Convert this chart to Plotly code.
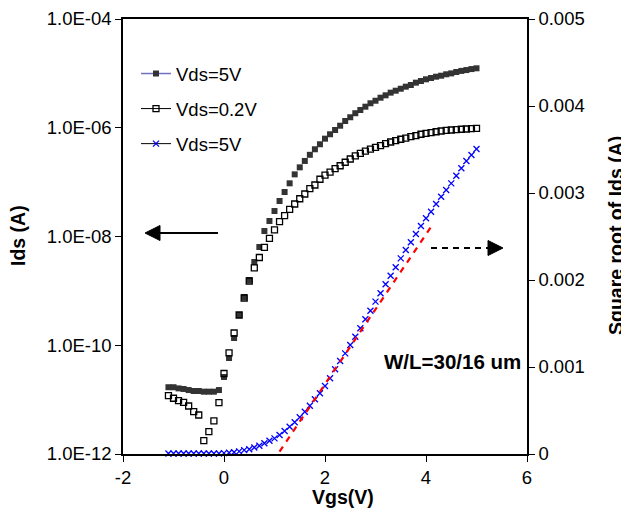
import plotly.graph_objects as go

# ---- data ----
vgs = [-1.1, -1.0, -0.9, -0.8, -0.7, -0.6, -0.5, -0.4, -0.3, -0.2, -0.1,
       0.0, 0.1, 0.2, 0.3, 0.4, 0.5, 0.6, 0.7, 0.8, 0.9,
       1.0, 1.1, 1.2, 1.3, 1.4, 1.5, 1.6, 1.7, 1.8, 1.9,
       2.0, 2.1, 2.2, 2.3, 2.4, 2.5, 2.6, 2.7, 2.8, 2.9,
       3.0, 3.1, 3.2, 3.3, 3.4, 3.5, 3.6, 3.7, 3.8, 3.9,
       4.0, 4.1, 4.2, 4.3, 4.4, 4.5, 4.6, 4.7, 4.8, 4.9, 5.0]

ids_vds5 = [1.69e-11, 1.69e-11, 1.61e-11, 1.57e-11, 1.50e-11, 1.44e-11, 1.44e-11, 1.40e-11, 1.40e-11, 1.40e-11, 1.50e-11,
            2.61e-11, 5.83e-11, 1.36e-10, 3.60e-10, 7.71e-10, 1.585e-9, 3.40e-9, 6.41e-9, 1.26e-8, 1.93e-8,
            2.94e-8, 4.50e-8, 6.58e-8, 9.51e-8, 1.39e-7, 1.87e-7, 2.45e-7, 3.18e-7, 4.02e-7, 4.97e-7,
            6.30e-7, 7.59e-7, 9.10e-7, 1.09e-6, 1.33e-6, 1.56e-6, 1.85e-6, 2.12e-6, 2.44e-6, 2.82e-6,
            3.14e-6, 3.57e-6, 3.95e-6, 4.42e-6, 4.80e-6, 5.22e-6, 5.69e-6, 6.11e-6, 6.75e-6, 7.24e-6,
            7.78e-6, 8.22e-6, 8.69e-6, 9.06e-6, 9.62e-6, 1.00e-5, 1.06e-5, 1.11e-5, 1.15e-5, 1.20e-5, 1.24e-5]

ids_vds02 = [1.18e-11, 1.06e-11, 9.55e-12, 8.93e-12, 7.64e-12, 6.00e-12, 5.21e-12, 1.76e-12, 2.57e-12, 4.05e-12, 8.77e-12,
             3.02e-11, 7.21e-11, 1.68e-10, 3.60e-10, 7.40e-10, 1.52e-9, 2.64e-9, 4.11e-9, 6.32e-9, 9.27e-9,
             1.32e-8, 1.87e-8, 2.43e-8, 3.16e-8, 3.96e-8, 4.95e-8, 6.05e-8, 7.57e-8, 8.85e-8, 1.13e-7,
             1.34e-7, 1.53e-7, 1.77e-7, 2.00e-7, 2.32e-7, 2.66e-7, 3.03e-7, 3.39e-7, 3.73e-7, 4.06e-7,
             4.37e-7, 4.68e-7, 5.09e-7, 5.47e-7, 5.78e-7, 6.14e-7, 6.47e-7, 6.84e-7, 7.14e-7, 7.59e-7,
             7.91e-7, 8.11e-7, 8.45e-7, 8.71e-7, 8.97e-7, 9.10e-7, 9.20e-7, 9.38e-7, 9.48e-7, 9.62e-7, 9.77e-7]

sqrt_ids_vds5 = [5e-6, 5e-6, 5e-6, 5e-6, 5e-6, 5e-6, 5e-6, 5e-6, 5e-6, 5e-6, 5e-6,
                 1.0e-5, 1.5e-5, 2.0e-5, 3.0e-5, 4.5e-5, 5.5e-5, 7.5e-5, 9.5e-5, 1.23e-4, 1.53e-4,
                 1.80e-4, 2.18e-4, 2.64e-4, 3.14e-4, 3.64e-4, 4.22e-4, 4.86e-4, 5.55e-4, 6.29e-4, 6.98e-4,
                 7.82e-4, 8.70e-4, 9.74e-4, 1.069e-3, 1.157e-3, 1.253e-3, 1.348e-3, 1.445e-3, 1.548e-3, 1.647e-3,
                 1.751e-3, 1.847e-3, 1.951e-3, 2.049e-3, 2.146e-3, 2.249e-3, 2.345e-3, 2.433e-3, 2.529e-3, 2.621e-3,
                 2.709e-3, 2.785e-3, 2.874e-3, 2.957e-3, 3.034e-3, 3.111e-3, 3.199e-3, 3.284e-3, 3.368e-3, 3.437e-3, 3.506e-3]

fit_vgs = [1.1, 4.15]
fit_sqrt = [2.8e-5, 2.654e-3]

left_tick_vals = [1e-12, 1e-10, 1e-8, 1e-6, 1e-4]
left_tick_text = ["1.0E-12", "1.0E-10", "1.0E-08", "1.0E-06", "1.0E-04"]
right_tick_vals = [0, 0.001, 0.002, 0.003, 0.004, 0.005]
right_tick_text = ["0", "0.001", "0.002", "0.003", "0.004", "0.005"]
x_tick_vals = [-2, 0, 2, 4, 6]
x_tick_text = ["-2", "0", "2", "4", "6"]

FONT = "Liberation Sans, Arial, sans-serif"
FS = 18.5
FS_TITLE = 19.5
FS_NOTE = 20.5

# page body has an 8px margin; figure coordinates below are screen coords minus 8
OFF = 8
PL, PR, PT, PB = 123, 527, 19, 454   # plot area in screen pixels


def sy(py):
    """screen y pixel -> paper y"""
    return (PB - py) / (PB - PT)


def sxp(px):
    """screen x pixel -> paper x"""
    return (px - PL) / (PR - PL)


def sx(px):
    """screen x pixel -> data x"""
    return -2 + (px - PL) / ((PR - PL) / 8.0)


fig = go.Figure()

fig.add_trace(go.Scatter(x=vgs, y=ids_vds5, mode="markers", showlegend=False,
                         marker=dict(symbol="square", size=6, color="#333333", line=dict(width=0)),
                         cliponaxis=False))
fig.add_trace(go.Scatter(x=vgs, y=ids_vds02, mode="markers", showlegend=False,
                         marker=dict(symbol="square-open", size=6, color="black", line=dict(width=1.3)),
                         cliponaxis=False))
fig.add_trace(go.Scatter(x=vgs, y=sqrt_ids_vds5, mode="markers", showlegend=False, yaxis="y2",
                         marker=dict(symbol="x-thin-open", size=6, color="#0000ff",
                                     line=dict(width=1.3, color="#0000ff")),
                         cliponaxis=False))
fig.add_trace(go.Scatter(x=fit_vgs, y=fit_sqrt, mode="lines", showlegend=False, yaxis="y2",
                         line=dict(color="#ff0000", width=2.2, dash="6px,6px")))

# legend entries (lines + markers as in the original legend)
fig.add_trace(go.Scatter(x=[None], y=[None], mode="lines+markers", name="Vds=5V", legendgroup="a",
                         line=dict(color="#7070c0", width=1.5),
                         marker=dict(symbol="square", size=6, color="#333333")))
fig.add_trace(go.Scatter(x=[None], y=[None], mode="lines+markers", name="Vds=0.2V", legendgroup="b",
                         line=dict(color="black", width=1),
                         marker=dict(symbol="square-open", size=6, color="black", line=dict(width=1.3))))
fig.add_trace(go.Scatter(x=[None], y=[None], mode="lines+markers", name="Vds=5V", legendgroup="c",
                         line=dict(color="black", width=1),
                         marker=dict(symbol="x-thin-open", size=6, color="#0000ff",
                                     line=dict(width=1.3, color="#0000ff"))))

# arrows
shapes = []
h = 7.5 / (PB - PT)
yl = sy(233)
shapes.append(dict(type="line", xref="x", yref="paper", x0=sx(158), x1=sx(218), y0=yl, y1=yl,
                   line=dict(color="black", width=2)))
tip, base = sx(145), sx(160)
shapes.append(dict(type="path", xref="x", yref="paper",
                   path=f"M {tip},{yl} L {base},{yl + h} L {base},{yl - h} Z",
                   fillcolor="black", line=dict(color="black", width=1)))
yr = sy(248)
shapes.append(dict(type="line", xref="x", yref="paper", x0=sx(431), x1=sx(489), y0=yr, y1=yr,
                   line=dict(color="black", width=2, dash="6px,5px")))
tip, base = sx(503), sx(488)
shapes.append(dict(type="path", xref="x", yref="paper",
                   path=f"M {tip},{yr} L {base},{yr + h} L {base},{yr - h} Z",
                   fillcolor="black", line=dict(color="black", width=1)))

annotations = [
    dict(text="<b>Ids (A)</b>", xref="paper", yref="paper", x=sxp(18), y=sy(236),
         textangle=-90, showarrow=False, xanchor="center", yanchor="middle",
         font=dict(family=FONT, size=FS_TITLE, color="black")),
    dict(text="<b>Square root of Ids (A)</b>", xref="paper", yref="paper", x=sxp(616), y=sy(236),
         textangle=-90, showarrow=False, xanchor="center", yanchor="middle",
         font=dict(family=FONT, size=FS_TITLE, color="black")),
    dict(text="<b>Vgs(V)</b>", xref="paper", yref="paper", x=sxp(343), y=sy(497),
         showarrow=False, xanchor="center", yanchor="middle",
         font=dict(family=FONT, size=FS_TITLE, color="black")),
    dict(text="<b>W/L=30/16 um</b>", xref="x", yref="paper", x=sx(382), y=sy(361),
         showarrow=False, xanchor="left", yanchor="middle",
         font=dict(family=FONT, size=FS_NOTE, color="black")),
]

W, H = 629 - OFF, 519 - OFF
fig.update_layout(
    width=W, height=H,
    margin=dict(l=PL - OFF, r=W - (PR - OFF), t=PT - OFF, b=H - (PB - OFF), autoexpand=False),
    paper_bgcolor="white", plot_bgcolor="white",
    font=dict(family=FONT, size=FS, color="black"),
    showlegend=True,
    legend=dict(x=sxp(136), y=sy(55), xanchor="left", yanchor="top",
                bgcolor="rgba(0,0,0,0)", font=dict(family=FONT, size=FS, color="black"),
                tracegroupgap=8, itemwidth=30),
    xaxis=dict(range=[-2, 6], tickmode="array", tickvals=x_tick_vals, ticktext=x_tick_text,
               showline=True, linecolor="black", linewidth=1.5, mirror=True, automargin=False,
               ticks="outside", ticklen=6, tickcolor="black", showgrid=False, zeroline=False),
    yaxis=dict(type="log", range=[-12, -4], tickmode="array", tickvals=left_tick_vals, ticktext=left_tick_text,
               showline=True, linecolor="black", linewidth=1.5, automargin=False,
               ticks="outside", ticklen=6, tickcolor="black", showgrid=False, zeroline=False),
    yaxis2=dict(range=[0, 0.005], overlaying="y", side="right", tickmode="array",
                tickvals=right_tick_vals, ticktext=right_tick_text, automargin=False,
                showline=True, linecolor="black", linewidth=1.5,
                ticks="outside", ticklen=6, tickcolor="black", showgrid=False, zeroline=False),
    shapes=shapes,
    annotations=annotations,
)

fig.write_html("out.html")
